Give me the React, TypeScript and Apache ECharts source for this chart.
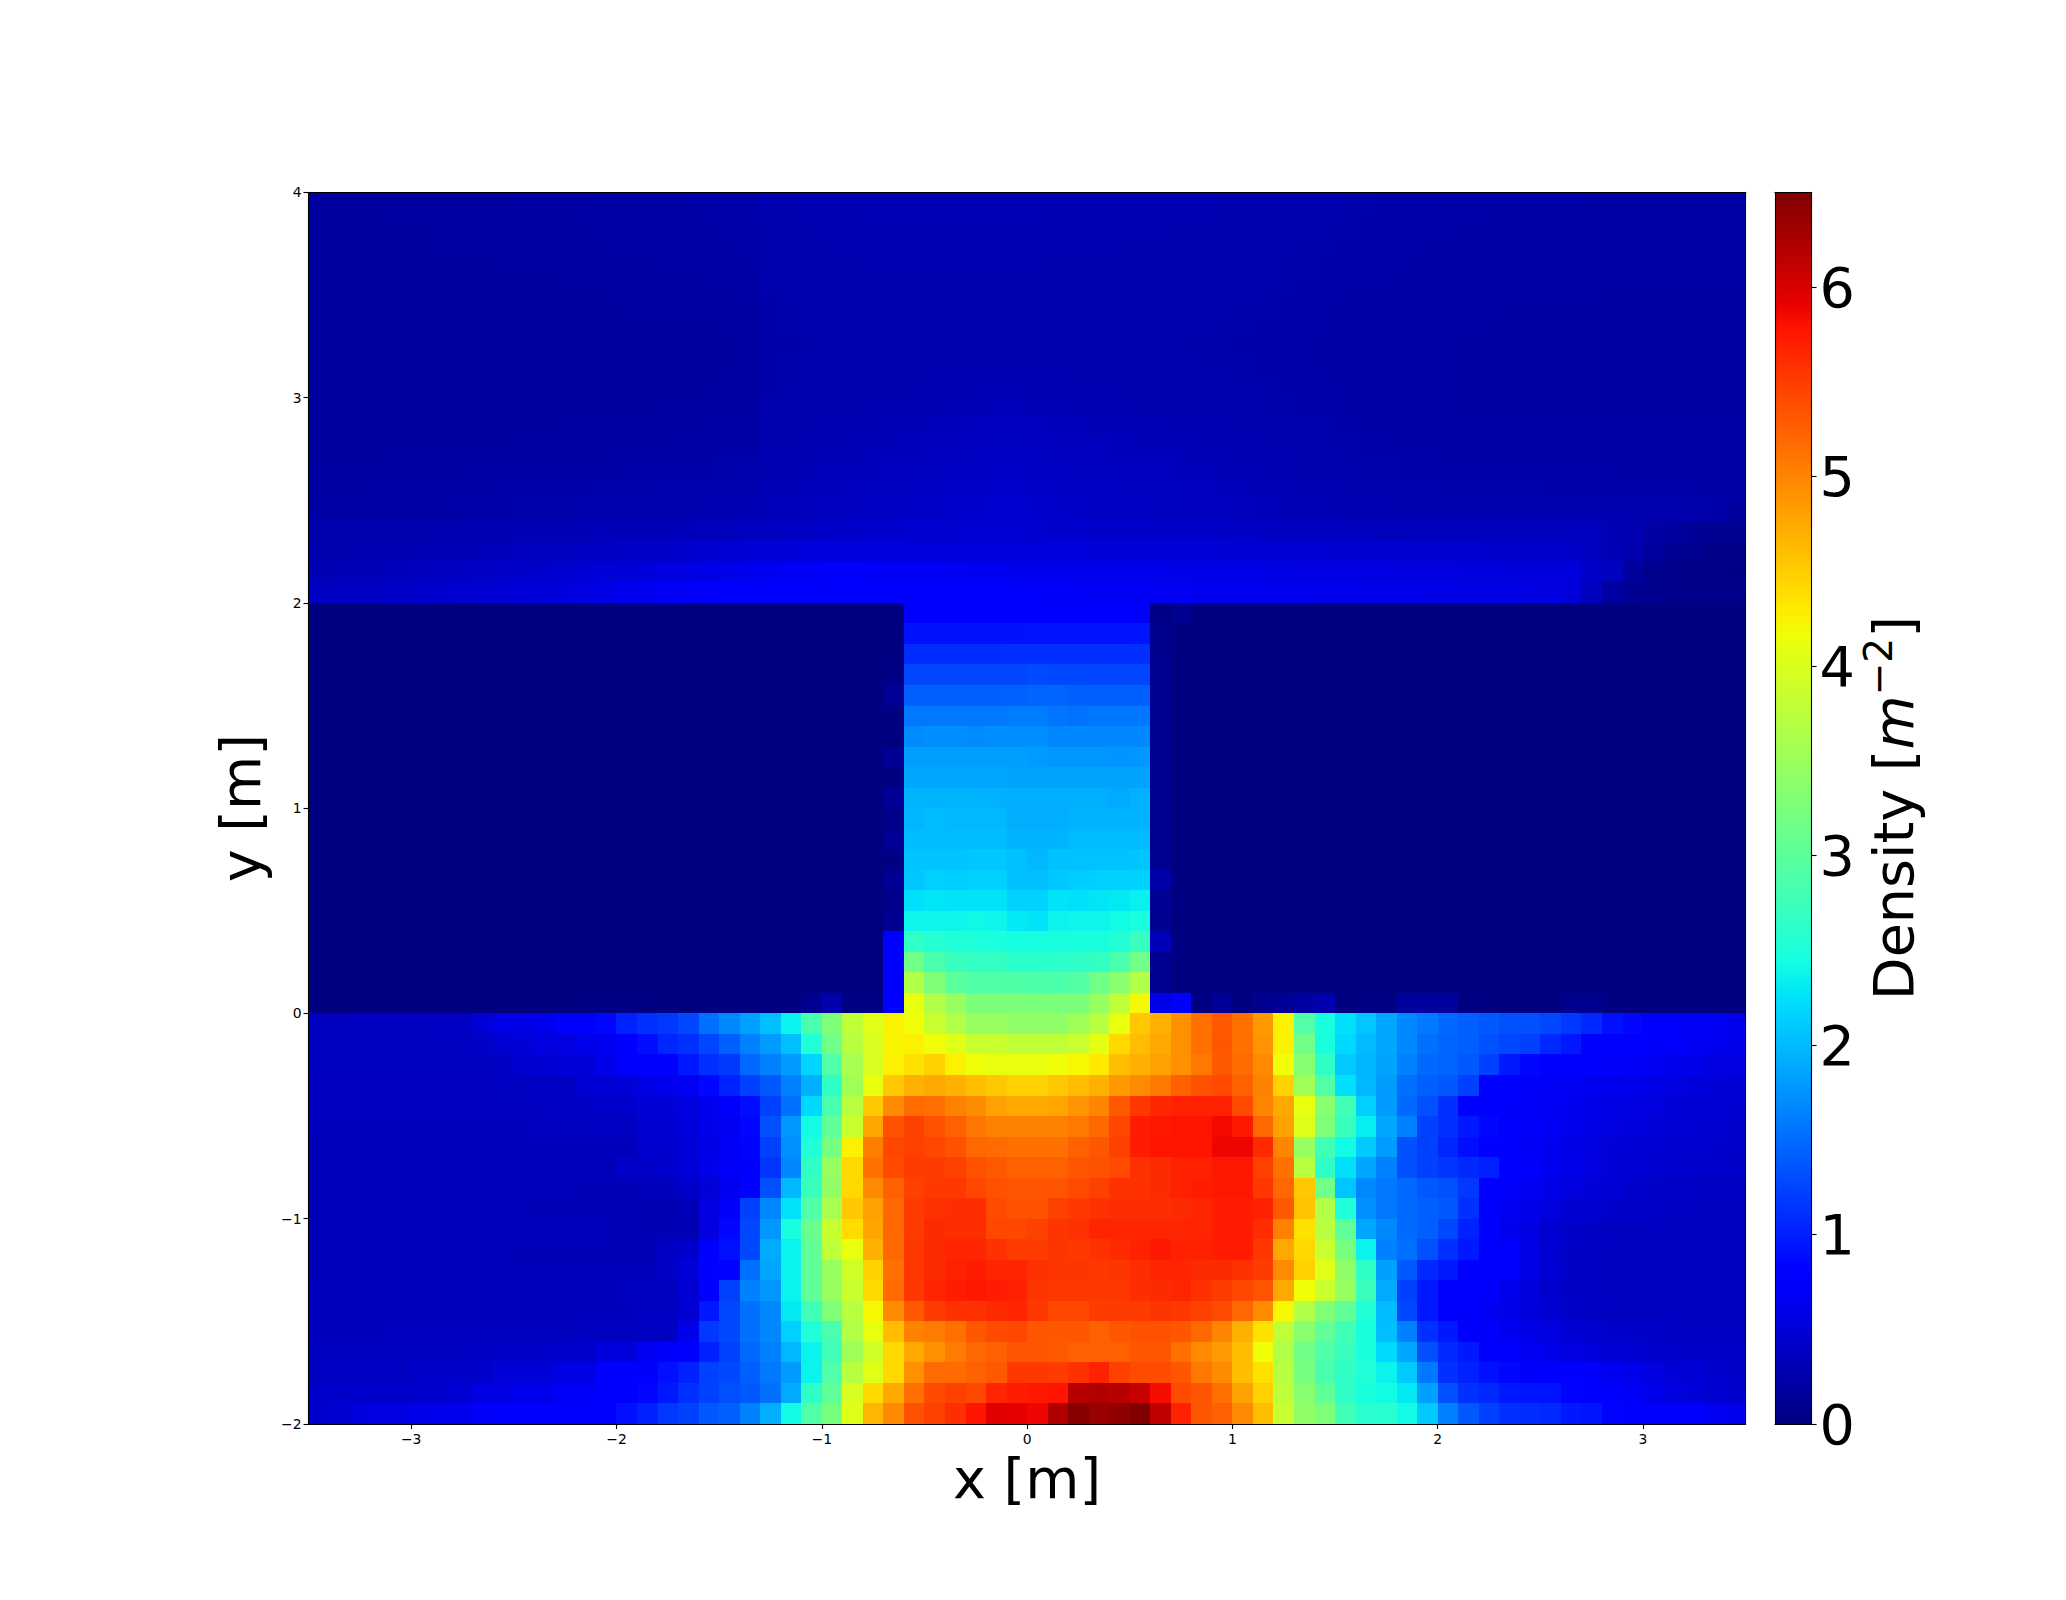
import React, { useEffect, useRef } from "react";
import * as echarts from "echarts";

const xTickLabels = [-3, -2, -1, 0, 1, 2, 3];
const yTickLabels = [-2, -1, 0, 1, 2, 3, 4];
const colorbarTicks = [0, 1, 2, 3, 4, 5, 6];
const densityMax = 6.5;

// Density per 0.1 m cell, left to right; each name is the lower edge of the band (y39 = 3.9..4.0 m).
const y39 = [.19,.19,.19,.19,.2,.2,.2,.2,.2,.2, .21,.21,.21,.21,.22,.22,.22,.22,.23,.23, .24,.24,.27,.28,.29,.3,.3,.31,.31,.31, .31,.31,.31,.31,.31,.31,.3,.3,.3,.3, .3,.29,.29,.29,.28,.28,.27,.27,.26,.26, .25,.25,.24,.24,.24,.23,.23,.23,.23,.23, .23,.23,.22,.22,.22,.22,.22,.22,.22,.22];
const y38 = [.18,.18,.18,.18,.19,.19,.19,.19,.19,.19, .2,.2,.2,.21,.21,.21,.22,.22,.22,.23, .23,.24,.26,.27,.28,.29,.29,.3,.3,.3, .3,.3,.3,.3,.3,.3,.29,.29,.29,.29, .29,.29,.28,.28,.28,.27,.27,.26,.26,.25, .25,.24,.24,.24,.23,.23,.23,.23,.22,.22, .22,.22,.22,.22,.22,.22,.22,.22,.22,.22];
const y37 = [.18,.18,.18,.18,.18,.18,.19,.19,.19,.19, .19,.2,.2,.2,.21,.21,.21,.21,.22,.22, .23,.24,.26,.27,.28,.28,.29,.29,.29,.3, .3,.3,.3,.3,.29,.29,.29,.29,.29,.28, .28,.28,.28,.27,.27,.27,.26,.26,.25,.25, .24,.24,.24,.23,.23,.23,.22,.22,.22,.22, .22,.22,.22,.22,.22,.22,.22,.22,.22,.22];
const y36 = [.17,.17,.17,.17,.18,.18,.18,.18,.18,.19, .19,.19,.19,.2,.2,.2,.2,.21,.21,.22, .22,.23,.25,.26,.27,.28,.28,.29,.29,.29, .29,.29,.29,.29,.29,.28,.28,.28,.28,.28, .28,.27,.27,.27,.27,.26,.26,.25,.25,.24, .24,.23,.23,.23,.22,.22,.22,.22,.22,.21, .21,.21,.21,.21,.21,.21,.21,.21,.21,.21];
const y35 = [.17,.17,.17,.17,.17,.17,.18,.18,.18,.18, .18,.18,.19,.19,.19,.19,.2,.2,.2,.21, .21,.22,.25,.26,.27,.27,.28,.28,.28,.28, .28,.28,.28,.28,.28,.28,.28,.27,.27,.27, .27,.27,.27,.26,.26,.26,.25,.25,.24,.24, .23,.23,.23,.22,.22,.22,.22,.21,.21,.21, .21,.21,.21,.21,.21,.21,.21,.21,.21,.21];
const y34 = [.16,.16,.16,.16,.17,.17,.17,.17,.17,.17, .17,.18,.18,.18,.18,.19,.19,.19,.19,.2, .2,.21,.24,.25,.26,.27,.27,.27,.28,.28, .28,.28,.28,.28,.28,.27,.27,.27,.27,.27, .27,.26,.26,.26,.26,.25,.25,.24,.24,.23, .23,.22,.22,.22,.22,.21,.21,.21,.21,.21, .21,.21,.21,.2,.2,.2,.2,.2,.2,.2];
const y33 = [.16,.16,.16,.16,.16,.16,.17,.17,.17,.17, .17,.17,.17,.17,.17,.18,.18,.18,.18,.18, .19,.2,.24,.25,.26,.26,.27,.27,.27,.27, .27,.27,.27,.27,.27,.27,.27,.27,.27,.26, .26,.26,.26,.26,.25,.25,.24,.24,.23,.23, .22,.22,.22,.21,.21,.21,.21,.21,.2,.2, .2,.2,.2,.2,.2,.2,.2,.2,.2,.2];
const y32 = [.16,.16,.16,.16,.16,.16,.16,.16,.16,.16, .16,.16,.16,.16,.17,.17,.17,.17,.18,.18, .18,.2,.23,.24,.25,.26,.26,.26,.27,.27, .27,.27,.27,.27,.27,.27,.26,.26,.26,.26, .26,.26,.25,.25,.25,.24,.24,.23,.23,.22, .22,.22,.21,.21,.21,.21,.2,.2,.2,.2, .2,.2,.2,.2,.2,.2,.2,.2,.2,.2];
const y31 = [.16,.16,.16,.16,.16,.16,.16,.16,.16,.16, .16,.16,.16,.16,.16,.17,.17,.17,.18,.18, .19,.2,.24,.25,.26,.26,.27,.27,.27,.27, .27,.27,.27,.27,.27,.27,.27,.26,.26,.26, .26,.26,.26,.25,.25,.25,.24,.24,.23,.23, .22,.22,.21,.21,.21,.21,.2,.2,.2,.2, .2,.2,.2,.2,.2,.2,.2,.2,.2,.2];
const y30 = [.16,.16,.16,.16,.16,.16,.17,.17,.17,.17, .17,.17,.17,.17,.17,.17,.18,.18,.18,.19, .19,.2,.24,.25,.26,.27,.27,.28,.28,.28, .29,.29,.3,.3,.3,.3,.29,.29,.28,.28, .27,.27,.27,.26,.26,.25,.25,.24,.24,.23, .23,.22,.22,.21,.21,.21,.2,.2,.2,.2, .2,.2,.2,.2,.2,.2,.2,.2,.2,.2];
const y29 = [.16,.16,.16,.17,.17,.17,.17,.17,.17,.17, .17,.17,.17,.17,.18,.18,.18,.19,.19,.2, .2,.21,.25,.26,.27,.28,.28,.29,.29,.29, .3,.31,.32,.33,.33,.32,.31,.3,.3,.29, .28,.28,.27,.27,.26,.26,.25,.25,.24,.24, .23,.22,.22,.21,.21,.21,.2,.2,.2,.2, .2,.2,.2,.2,.2,.2,.2,.2,.2,.2];
const y28 = [.17,.17,.17,.17,.17,.17,.18,.18,.18,.18, .18,.18,.19,.19,.19,.19,.2,.2,.2,.21, .21,.22,.26,.27,.28,.29,.3,.3,.31,.32, .33,.34,.35,.36,.36,.35,.34,.33,.32,.32, .31,.31,.3,.3,.29,.28,.27,.26,.26,.25, .24,.23,.23,.22,.22,.21,.21,.21,.21,.21, .21,.21,.21,.21,.21,.21,.21,.21,.21,.21];
const y27 = [.18,.18,.18,.18,.19,.19,.19,.19,.19,.19, .2,.2,.2,.2,.2,.21,.21,.21,.22,.22, .23,.24,.27,.28,.3,.31,.31,.32,.33,.34, .35,.36,.37,.38,.38,.37,.36,.35,.35,.34, .33,.33,.32,.31,.3,.29,.28,.28,.27,.26, .25,.24,.24,.23,.23,.22,.22,.22,.22,.22, .22,.22,.22,.22,.22,.22,.22,.22,.22,.22];
const y26 = [.19,.19,.19,.2,.2,.2,.2,.21,.21,.21, .21,.21,.22,.22,.22,.23,.23,.23,.24,.24, .25,.26,.29,.3,.32,.33,.33,.34,.35,.36, .37,.38,.39,.4,.4,.39,.38,.37,.36,.36, .35,.35,.34,.33,.32,.31,.3,.29,.28,.27, .26,.25,.25,.24,.24,.23,.23,.23,.23,.23, .23,.23,.23,.23,.22,.22,.22,.22,.22,.22];
const y25 = [.2,.2,.2,.21,.21,.21,.22,.22,.22,.23, .23,.23,.24,.24,.25,.25,.25,.26,.26,.27, .27,.28,.31,.32,.33,.34,.35,.36,.37,.38, .39,.4,.41,.42,.42,.41,.4,.39,.38,.38, .37,.36,.36,.35,.34,.33,.32,.31,.3,.29, .28,.27,.27,.26,.26,.25,.25,.25,.25,.25, .24,.24,.24,.24,.24,.24,.23,.23,.22,.22];
const y24 = [.22,.22,.22,.23,.23,.23,.23,.24,.24,.24, .25,.25,.25,.26,.26,.27,.27,.28,.28,.29, .3,.31,.33,.34,.36,.37,.38,.39,.4,.41, .42,.43,.44,.45,.45,.44,.42,.41,.4,.4, .39,.38,.38,.37,.36,.35,.34,.33,.32,.31, .3,.29,.29,.28,.28,.27,.27,.27,.27,.27, .27,.27,.27,.27,.27,.27,.26,.25,.24,.18];
const y23 = [.25,.25,.25,.26,.26,.26,.27,.27,.28,.29, .3,.3,.31,.31,.32,.32,.33,.33,.34,.35, .36,.37,.38,.39,.4,.42,.43,.44,.44,.45, .45,.45,.46,.46,.46,.45,.44,.44,.43,.43, .42,.42,.42,.41,.41,.4,.39,.38,.38,.37, .37,.37,.36,.36,.36,.36,.36,.36,.36,.36, .36,.36,.36,.3,.27,.2,.18,.14,.12,.1];
const y22 = [.28,.28,.29,.29,.3,.31,.31,.32,.33,.34, .36,.36,.37,.38,.39,.4,.41,.42,.44,.46, .48,.49,.5,.51,.52,.52,.52,.52,.52,.52, .52,.52,.52,.52,.52,.52,.52,.52,.51,.51, .51,.5,.5,.5,.49,.48,.48,.47,.47,.46, .46,.46,.46,.45,.45,.45,.45,.44,.44,.44, .44,.42,.36,.3,.26,.18,.12,.1,.06,.05];
const y21 = [.3,.31,.32,.33,.34,.36,.37,.38,.4,.41, .42,.43,.45,.47,.49,.5,.52,.54,.56,.58, .6,.62,.64,.66,.68,.7,.7,.68,.67,.66, .66,.65,.64,.63,.62,.62,.61,.61,.6,.6, .6,.6,.59,.59,.58,.58,.58,.57,.56,.56, .56,.55,.55,.54,.54,.54,.53,.53,.52,.52, .52,.52,.42,.36,.16,.08,.06,.05,.05,.04];
const y20 = [.38,.38,.39,.4,.42,.43,.44,.45,.46,.48, .5,.51,.53,.55,.58,.62,.64,.66,.68,.7, .72,.72,.73,.74,.74,.74,.75,.75,.74,.74, .74,.74,.72,.72,.71,.7,.69,.68,.67,.66, .66,.65,.65,.64,.64,.63,.63,.62,.62,.61, .61,.6,.6,.6,.59,.59,.58,.58,.58,.56, .54,.5,.36,.2,.1,.08,.07,.06,.06,.06];
const y19 = [0,0,0,0,0,0,0,0,0,0, 0,0,0,0,0,0,0,0,0,0, 0,0,0,0,0,0,0,0,0,.74, .74,.74,.74,.74,.74,.74,.74,.76,.76,.76, .76,.04,.1,0,0,0,0,0,0,0, 0,0,0,0,0,0,0,0,0,0, 0,0,0,0,0,0,0,0,0,0];
const y18 = [0,0,0,0,0,0,0,0,0,0, 0,0,0,0,0,0,0,0,0,0, 0,0,0,0,0,0,0,0,0,.92, .92,.92,.92,.92,.92,.93,.93,.93,.93,.93, .94,.08,.01,0,0,0,0,0,0,0, 0,0,0,0,0,0,0,0,0,0, 0,0,0,0,0,0,0,0,0,0];
const y17 = [0,0,0,0,0,0,0,0,0,0, 0,0,0,0,0,0,0,0,0,0, 0,0,0,0,0,0,0,0,0,1.1, 1.1,1.1,1.1,1.1,1.11,1.11,1.11,1.11,1.11,1.11, 1.11,.08,.01,0,0,0,0,0,0,0, 0,0,0,0,0,0,0,0,0,0, 0,0,0,0,0,0,0,0,0,0];
const y16 = [0,0,0,0,0,0,0,0,0,0, 0,0,0,0,0,0,0,0,0,0, 0,0,0,0,0,0,0,0,.04,1.26, 1.26,1.26,1.26,1.26,1.26,1.28,1.27,1.27,1.25,1.26, 1.26,.09,.01,0,0,0,0,0,0,0, 0,0,0,0,0,0,0,0,0,0, 0,0,0,0,0,0,0,0,0,0];
const y15 = [0,0,0,0,0,0,0,0,0,0, 0,0,0,0,0,0,0,0,0,0, 0,0,0,0,0,0,0,0,.14,1.42, 1.42,1.42,1.42,1.42,1.43,1.45,1.45,1.42,1.42,1.42, 1.42,.09,.01,0,0,0,0,0,0,0, 0,0,0,0,0,0,0,0,0,0, 0,0,0,0,0,0,0,0,0,0];
const y14 = [0,0,0,0,0,0,0,0,0,0, 0,0,0,0,0,0,0,0,0,0, 0,0,0,0,0,0,0,0,0,1.58, 1.58,1.58,1.58,1.58,1.6,1.6,1.56,1.54,1.57,1.57, 1.57,.09,.01,0,0,0,0,0,0,0, 0,0,0,0,0,0,0,0,0,0, 0,0,0,0,0,0,0,0,0,0];
const y13 = [0,0,0,0,0,0,0,0,0,0, 0,0,0,0,0,0,0,0,0,0, 0,0,0,0,0,0,0,0,0,1.7, 1.72,1.72,1.7,1.72,1.72,1.72,1.68,1.68,1.68,1.68, 1.68,.09,.01,0,0,0,0,0,0,0, 0,0,0,0,0,0,0,0,0,0, 0,0,0,0,0,0,0,0,0,0];
const y12 = [0,0,0,0,0,0,0,0,0,0, 0,0,0,0,0,0,0,0,0,0, 0,0,0,0,0,0,0,0,.12,1.82, 1.82,1.82,1.82,1.82,1.82,1.8,1.78,1.78,1.78,1.76, 1.78,.09,.01,0,0,0,0,0,0,0, 0,0,0,0,0,0,0,0,0,0, 0,0,0,0,0,0,0,0,0,0];
const y11 = [0,0,0,0,0,0,0,0,0,0, 0,0,0,0,0,0,0,0,0,0, 0,0,0,0,0,0,0,0,.02,1.88, 1.88,1.88,1.88,1.88,1.86,1.86,1.86,1.86,1.86,1.86, 1.86,.09,.01,0,0,0,0,0,0,0, 0,0,0,0,0,0,0,0,0,0, 0,0,0,0,0,0,0,0,0,0];
const y10 = [0,0,0,0,0,0,0,0,0,0, 0,0,0,0,0,0,0,0,0,0, 0,0,0,0,0,0,0,0,.13,1.95, 1.95,1.95,1.95,1.94,1.92,1.92,1.92,1.92,1.92,1.9, 1.94,.09,.01,0,0,0,0,0,0,0, 0,0,0,0,0,0,0,0,0,0, 0,0,0,0,0,0,0,0,0,0];
const y09 = [0,0,0,0,0,0,0,0,0,0, 0,0,0,0,0,0,0,0,0,0, 0,0,0,0,0,0,0,0,.05,1.96, 2.0,1.98,1.98,1.98,1.93,1.92,1.92,1.95,1.95,1.95, 1.95,.09,.01,0,0,0,0,0,0,0, 0,0,0,0,0,0,0,0,0,0, 0,0,0,0,0,0,0,0,0,0];
const y08 = [0,0,0,0,0,0,0,0,0,0, 0,0,0,0,0,0,0,0,0,0, 0,0,0,0,0,0,0,0,.14,2.0, 2.0,2.0,2.01,2.01,1.95,1.95,1.95,2.0,2.0,2.0, 2.0,.09,.01,0,0,0,0,0,0,0, 0,0,0,0,0,0,0,0,0,0, 0,0,0,0,0,0,0,0,0,0];
const y07 = [0,0,0,0,0,0,0,0,0,0, 0,0,0,0,0,0,0,0,0,0, 0,0,0,0,0,0,0,0,.01,2.06, 2.06,2.06,2.08,2.08,2.04,1.98,2.04,2.05,2.05,2.05, 2.07,.09,.01,0,0,0,0,0,0,0, 0,0,0,0,0,0,0,0,0,0, 0,0,0,0,0,0,0,0,0,0];
const y06 = [0,0,0,0,0,0,0,0,0,0, 0,0,0,0,0,0,0,0,0,0, 0,0,0,0,0,0,0,0,.12,2.08, 2.14,2.12,2.14,2.14,2.03,2.03,2.08,2.12,2.14,2.14, 2.15,.24,.01,0,0,0,0,0,0,0, 0,0,0,0,0,0,0,0,0,0, 0,0,0,0,0,0,0,0,0,0];
const y05 = [0,0,0,0,0,0,0,0,0,0, 0,0,0,0,0,0,0,0,0,0, 0,0,0,0,0,0,0,0,.06,2.24, 2.28,2.26,2.26,2.26,2.15,2.15,2.26,2.24,2.28,2.3, 2.34,.12,.01,0,0,0,0,0,0,0, 0,0,0,0,0,0,0,0,0,0, 0,0,0,0,0,0,0,0,0,0];
const y04 = [0,0,0,0,0,0,0,0,0,0, 0,0,0,0,0,0,0,0,0,0, 0,0,0,0,0,0,0,0,.1,2.38, 2.38,2.38,2.4,2.38,2.3,2.26,2.36,2.38,2.38,2.42, 2.46,.1,.01,0,0,0,0,0,0,0, 0,0,0,0,0,0,0,0,0,0, 0,0,0,0,0,0,0,0,0,0];
const y03 = [0,0,0,0,0,0,0,0,0,0, 0,0,0,0,0,0,0,0,0,0, 0,0,0,0,0,0,0,0,.72,2.66, 2.56,2.52,2.5,2.48,2.45,2.45,2.45,2.47,2.47,2.55, 2.72,.33,.01,0,0,0,0,0,0,0, 0,0,0,0,0,0,0,0,0,0, 0,0,0,0,0,0,0,0,0,0];
const y02 = [0,0,0,0,0,0,0,0,0,0, 0,0,0,0,0,0,0,0,0,0, 0,0,0,0,0,0,0,0,.72,3.16, 2.85,2.72,2.68,2.68,2.62,2.62,2.62,2.65,2.68,2.85, 3.16,.09,.01,0,0,0,0,0,0,0, 0,0,0,0,0,0,0,0,0,0, 0,0,0,0,0,0,0,0,0,0];
const y01 = [0,0,0,0,0,0,0,0,0,0, 0,0,0,0,0,0,0,0,0,0, 0,0,0,0,0,0,0,0,.72,3.67, 3.28,3.0,2.92,2.92,2.9,2.88,2.88,2.93,3.16,3.35, 3.67,.09,.01,0,0,0,0,0,0,0, 0,0,0,0,0,0,0,0,0,0, 0,0,0,0,0,0,0,0,0,0];
const y00 = [0,0,0,0,0,0,0,0,0,0, 0,0,0,.02,.03,.04,.02,0,0,0, 0,0,0,0,.1,.25,.02,.03,.72,4.11, 3.67,3.47,3.25,3.25,3.25,3.25,3.25,3.25,3.47,3.79, 4.2,.6,.7,.03,.14,0,.1,.12,.2,.25, 0,.03,.03,.18,.18,.18,.02,.01,0,0, 0,.1,.1,0,0,0,0,0,0,0];
const ym01 = [.36,.36,.37,.37,.38,.38,.39,.4,.5,.58, .58,.62,.72,.72,.85,1.02,1.12,1.17,1.27,1.53, 1.68,1.83,2.03,2.36,2.85,3.28,3.79,4.05,4.25,4.17, 3.85,3.67,3.47,3.47,3.41,3.41,3.41,3.54,3.73,4.11, 4.54,4.7,4.92,5.14,5.3,5.14,4.86,4.26,2.91,2.47, 2.24,2.07,1.88,1.68,1.58,1.48,1.42,1.37,1.32,1.32, 1.27,1.17,1.07,.91,.85,.76,.72,.68,.66,.62];
const ym02 = [.36,.36,.36,.37,.37,.37,.37,.38,.4,.48, .5,.54,.56,.6,.64,.72,.9,1.05,1.12,1.25, 1.42,1.63,1.8,2.03,2.53,3.16,3.73,3.98,4.24,4.26, 4.17,4.05,3.85,3.85,3.79,3.79,3.79,3.85,4.08,4.43, 4.62,4.75,4.92,5.14,5.32,5.14,4.9,4.26,3.16,2.47, 2.2,2.0,1.88,1.68,1.53,1.45,1.42,1.32,1.27,1.22, 1.07,.97,.78,.75,.74,.72,.7,.66,.64,.6];
const ym03 = [.36,.36,.36,.36,.37,.37,.37,.37,.37,.39, .45,.46,.5,.5,.6,.72,.74,.76,.97,1.12, 1.17,1.48,1.63,1.8,2.17,2.91,3.6,3.98,4.26,4.37, 4.48,4.26,4.17,4.11,4.11,4.11,4.17,4.22,4.31,4.6, 4.7,4.81,4.92,5.08,5.3,5.18,4.97,4.17,3.35,2.65, 2.09,1.97,1.86,1.63,1.48,1.45,1.37,1.22,.97,.85, .76,.74,.72,.7,.68,.66,.62,.6,.56,.54];
const ym04 = [.35,.35,.35,.35,.35,.35,.35,.35,.35,.38, .38,.38,.38,.46,.48,.5,.58,.62,.65,.85, 1.02,1.22,1.37,1.63,1.93,2.65,3.54,4.11,4.54,4.7, 4.75,4.7,4.6,4.54,4.48,4.48,4.54,4.62,4.7,4.86, 4.97,5.08,5.25,5.35,5.41,5.25,5.03,4.48,3.54,2.91, 2.24,1.98,1.8,1.53,1.42,1.37,1.22,.78,.72,.7, .68,.66,.64,.62,.6,.58,.56,.52,.5,.48];
const ym05 = [.35,.35,.35,.35,.35,.35,.35,.35,.35,.37, .37,.38,.39,.4,.43,.43,.5,.5,.54,.64, .72,.9,1.22,1.53,2.2,2.85,3.73,4.54,4.95,5.18, 5.14,5.03,4.95,4.81,4.75,4.75,4.78,4.9,5.0,5.3, 5.53,5.65,5.69,5.69,5.69,5.4,5.0,4.75,4.11,3.35, 2.78,2.14,1.8,1.48,1.32,1.12,.78,.72,.7,.68, .66,.64,.6,.58,.56,.54,.5,.48,.47,.46];
const ym06 = [.34,.34,.34,.34,.34,.34,.34,.34,.34,.34, .34,.35,.36,.37,.38,.38,.46,.46,.52,.6, .66,.85,1.32,1.78,2.42,3.03,3.85,4.78,5.35,5.47, 5.35,5.25,5.1,5.03,5.03,5.03,5.03,5.08,5.2,5.43, 5.72,5.75,5.78,5.78,5.85,5.75,5.2,4.81,4.05,3.28, 2.72,2.33,1.88,1.63,1.22,1.12,.97,.85,.74,.7, .66,.62,.58,.54,.52,.5,.48,.46,.45,.44];
const ym07 = [.33,.33,.33,.33,.33,.33,.33,.33,.33,.33, .33,.33,.33,.34,.34,.34,.44,.44,.5,.58, .68,.8,1.22,1.73,2.53,3.22,4.26,5.05,5.43,5.47, 5.43,5.35,5.2,5.18,5.14,5.14,5.14,5.25,5.32,5.47, 5.72,5.78,5.78,5.78,5.88,5.88,5.64,5.0,3.47,2.78, 2.42,2.1,1.8,1.32,1.22,1.05,.9,.75,.72,.68, .62,.58,.54,.5,.48,.47,.46,.45,.44,.42];
const ym08 = [.33,.33,.33,.33,.33,.33,.33,.33,.33,.33, .33,.33,.33,.33,.33,.41,.41,.44,.5,.6, .68,.78,1.15,1.68,2.65,3.47,4.43,5.14,5.41,5.5, 5.5,5.47,5.35,5.3,5.25,5.25,5.25,5.32,5.35,5.41, 5.58,5.62,5.69,5.69,5.75,5.75,5.47,5.14,3.73,2.65, 2.24,1.88,1.63,1.32,1.22,1.15,1.07,1.02,.74,.7, .64,.6,.55,.5,.47,.45,.44,.43,.42,.41];
const ym09 = [.33,.33,.33,.33,.33,.33,.33,.33,.33,.33, .33,.33,.33,.32,.32,.32,.34,.34,.42,.5, .64,.74,1.32,1.98,2.72,3.41,4.43,4.97,5.25,5.47, 5.53,5.53,5.43,5.35,5.33,5.33,5.33,5.4,5.47,5.58, 5.58,5.62,5.69,5.72,5.75,5.75,5.53,5.2,4.54,3.16, 2.07,1.68,1.58,1.48,1.37,1.32,1.17,.76,.7,.66, .6,.54,.5,.47,.44,.42,.41,.4,.39,.38];
const ym10 = [.33,.33,.33,.33,.33,.33,.33,.33,.33,.33, .33,.32,.32,.32,.32,.32,.3,.3,.33,.56, .7,1.22,1.68,2.26,2.91,3.6,4.54,4.81,5.2,5.5, 5.58,5.6,5.6,5.4,5.35,5.35,5.47,5.53,5.58,5.6, 5.6,5.6,5.62,5.66,5.72,5.72,5.69,5.3,4.57,3.67, 2.53,1.73,1.58,1.48,1.42,1.37,1.12,.72,.66,.6, .54,.46,.45,.42,.41,.4,.39,.38,.37,.37];
const ym11 = [.33,.33,.33,.33,.33,.33,.33,.33,.33,.33, .33,.33,.33,.33,.33,.3,.3,.3,.3,.56, .85,1.27,1.78,2.47,3.1,3.85,4.4,4.78,5.2,5.5, 5.62,5.6,5.6,5.43,5.43,5.47,5.55,5.58,5.66,5.66, 5.66,5.66,5.66,5.66,5.72,5.72,5.6,5.03,4.37,3.73, 3.03,1.88,1.68,1.48,1.42,1.27,1.02,.74,.62,.55, .46,.42,.4,.38,.37,.37,.37,.36,.36,.36];
const ym12 = [.33,.33,.33,.33,.33,.33,.33,.33,.33,.33, .32,.32,.32,.32,.32,.32,.32,.39,.44,.72, .91,1.27,1.9,2.36,3.03,3.79,4.11,4.7,5.2,5.53, 5.62,5.66,5.66,5.58,5.5,5.5,5.55,5.53,5.58,5.62, 5.69,5.75,5.69,5.69,5.72,5.72,5.53,4.75,4.43,3.85, 3.22,2.36,1.63,1.53,1.32,1.12,.97,.74,.72,.58, .46,.4,.38,.37,.36,.36,.36,.36,.36,.36];
const ym13 = [.33,.33,.33,.33,.33,.33,.33,.33,.33,.33, .33,.33,.33,.33,.33,.33,.33,.4,.5,.72, .8,1.53,1.88,2.36,3.03,3.47,3.92,4.48,5.14,5.53, 5.62,5.69,5.72,5.66,5.66,5.58,5.55,5.55,5.53,5.55, 5.6,5.66,5.66,5.62,5.62,5.58,5.5,4.97,4.48,4.05, 3.41,2.65,1.83,1.37,1.07,.97,.78,.74,.72,.58, .48,.4,.38,.37,.36,.36,.36,.36,.36,.36];
const ym14 = [.34,.34,.34,.34,.34,.34,.34,.34,.34,.34, .34,.34,.34,.34,.34,.36,.36,.37,.48,.72, 1.22,1.63,1.78,2.36,3.03,3.47,3.85,4.43,5.18,5.53, 5.66,5.72,5.75,5.72,5.69,5.55,5.53,5.53,5.53,5.53, 5.6,5.62,5.66,5.58,5.5,5.43,5.33,4.75,4.17,3.85, 3.47,2.72,1.9,1.22,.97,.78,.72,.7,.62,.52, .44,.4,.38,.37,.36,.36,.36,.36,.36,.36];
const ym15 = [.34,.34,.34,.34,.34,.34,.34,.34,.34,.34, .34,.34,.34,.34,.34,.34,.38,.38,.46,.97, 1.27,1.53,1.68,2.3,2.78,3.28,3.73,4.22,4.95,5.3, 5.5,5.58,5.58,5.62,5.66,5.53,5.43,5.43,5.5,5.5, 5.5,5.55,5.53,5.47,5.4,5.2,4.95,4.22,3.67,3.28, 3.03,2.53,2.0,1.27,.97,.74,.7,.66,.6,.52, .46,.42,.39,.38,.37,.37,.37,.36,.36,.36];
const ym16 = [.34,.34,.34,.34,.35,.35,.35,.35,.36,.36, .36,.36,.36,.37,.37,.37,.38,.38,.6,1.17, 1.27,1.53,1.68,2.14,2.53,2.85,3.67,4.11,4.62,5.03, 5.06,5.14,5.32,5.41,5.43,5.32,5.32,5.32,5.25,5.32, 5.35,5.35,5.32,5.2,5.0,4.7,4.37,3.79,3.35,3.03, 2.78,2.47,2.03,1.63,1.12,.97,.76,.7,.64,.58, .54,.48,.45,.42,.41,.4,.39,.38,.38,.38];
const ym17 = [.36,.36,.36,.36,.36,.36,.36,.38,.39,.4, .41,.42,.43,.44,.52,.52,.66,.72,.74,1.02, 1.22,1.48,1.63,1.98,2.36,2.78,3.54,3.92,4.43,4.75, 4.92,5.06,5.2,5.25,5.33,5.33,5.3,5.25,5.25,5.25, 5.32,5.32,5.14,4.97,4.85,4.6,4.17,3.67,3.16,2.91, 2.72,2.47,2.2,1.88,1.32,1.07,.97,.76,.72,.66, .6,.56,.52,.48,.46,.44,.42,.41,.4,.4];
const ym18 = [.38,.38,.38,.38,.38,.42,.42,.42,.42,.5, .5,.5,.58,.58,.72,.74,.78,.91,1.02,1.22, 1.27,1.42,1.58,1.8,2.36,2.91,3.73,4.05,4.43,4.92, 5.18,5.18,5.25,5.3,5.53,5.53,5.5,5.58,5.69,5.47, 5.4,5.4,5.32,5.08,4.95,4.6,4.37,3.73,3.22,2.85, 2.65,2.53,2.36,2.1,1.58,1.12,1.02,.91,.85,.78, .75,.72,.7,.64,.6,.54,.5,.48,.44,.42];
const ym19 = [.42,.42,.42,.42,.42,.44,.44,.48,.56,.56, .62,.62,.68,.68,.72,.76,.85,.97,1.12,1.22, 1.32,1.37,1.53,1.9,2.65,3.03,3.98,4.43,4.75,5.14, 5.41,5.47,5.43,5.66,5.72,5.75,5.78,6.18,6.23,6.18, 6.1,5.83,5.41,5.33,5.14,4.81,4.48,3.79,3.35,3.03, 2.65,2.47,2.42,2.3,1.83,1.32,1.12,1.07,.97,.95, .93,.8,.76,.74,.68,.6,.54,.5,.46,.44];
const ym20 = [.44,.45,.52,.54,.56,.6,.62,.64,.68,.72, .74,.74,.74,.74,.72,.91,1.02,1.17,1.22,1.37, 1.42,1.63,1.93,2.42,2.91,3.22,4.05,4.66,4.97,5.35, 5.47,5.6,5.78,5.96,5.92,5.88,6.23,6.45,6.36,6.41, 6.5,6.14,5.69,5.32,5.25,4.97,4.6,3.85,3.41,3.28, 2.78,2.6,2.58,2.42,2.09,1.63,1.37,1.22,1.12,1.1, 1.07,.97,.94,.8,.76,.74,.72,.72,.66,.64];

const densityRows = [y39,y38,y37,y36,y35,y34,y33,y32,y31,y30,y29,y28,y27,y26,y25,y24,y23,y22,y21,y20,
  y19,y18,y17,y16,y15,y14,y13,y12,y11,y10,y09,y08,y07,y06,y05,y04,y03,y02,y01,y00,
  ym01,ym02,ym03,ym04,ym05,ym06,ym07,ym08,ym09,ym10,ym11,ym12,ym13,ym14,ym15,ym16,ym17,ym18,ym19,ym20];

// Matplotlib's jet colormap, sampled.
const jetR: number[][] = [[0,0],[.35,0],[.66,1],[.89,1],[1,.5]];
const jetG: number[][] = [[0,0],[.125,0],[.375,1],[.64,1],[.91,0],[1,0]];
const jetB: number[][] = [[0,.5],[.11,1],[.34,1],[.65,0],[1,0]];
function seg(s: number[][], t: number) {
  for (let i = 1; i < s.length; i++) {
    if (t <= s[i][0]) return s[i-1][1] + (s[i][1]-s[i-1][1]) * (t-s[i-1][0]) / (s[i][0]-s[i-1][0]);
  }
  return s[s.length-1][1];
}
function jet(t: number) {
  const h = (v: number) => Math.round(v*255).toString(16).padStart(2, "0");
  return "#" + h(seg(jetR,t)) + h(seg(jetG,t)) + h(seg(jetB,t));
}
const jetSteps: number[] = [];
for (let i = 0; i <= 100; i++) jetSteps.push(i/100);
const jetColors = jetSteps.map(jet);

const FONT = "DejaVu Sans";
const plot = { left: 308.5, right: 1745.7, top: 192.3, bottom: 1424 };
const cbar = { left: 1775, right: 1811.6 };

export default function App() {
  const ref = useRef<HTMLDivElement>(null);
  useEffect(() => {
    const chart = echarts.init(ref.current!, undefined, { renderer: "svg" });
    // r = 0 is the band 3.9..4.0, r = 59 is the band -2.0..-1.9
    const cells: number[][] = [];
    densityRows.forEach((row, r) => row.forEach((v, c) => {
      cells.push([(c-35)/10, (39-r)/10, v]);
    }));

    const minus = (v: any) => String(v).replace("-", "\u2212");
    const line = { show: true, onZero: false, lineStyle: { color: "#000", width: 1.1 } };
    const tick = { show: true, length: 5, lineStyle: { color: "#000", width: 1.1 } };
    const off = { show: false };

    chart.setOption({
      animation: false,
      backgroundColor: "#fff",
      textStyle: { fontFamily: FONT },
      grid: [
        { left: plot.left, width: plot.right-plot.left, top: plot.top, height: plot.bottom-plot.top },
        { left: cbar.left, width: cbar.right-cbar.left, top: plot.top, height: plot.bottom-plot.top },
      ],
      xAxis: [
        { type: "value", gridIndex: 0, min: -3.5, max: 3.5, position: "bottom", z: 10, splitLine: off, axisLine: line,
          axisTick: { ...tick, customValues: xTickLabels },
          axisLabel: { customValues: xTickLabels, formatter: minus, fontSize: 13.9, color: "#000", margin: 8, fontFamily: FONT },
          name: "x [m]", nameLocation: "middle", nameGap: 25,
          nameTextStyle: { fontSize: 55.6, color: "#000", fontFamily: FONT } },
        { type: "value", gridIndex: 0, min: -3.5, max: 3.5, position: "top", z: 10, splitLine: off, axisLine: line, axisTick: off, axisLabel: off },
        { type: "value", gridIndex: 1, min: 0, max: 1, position: "bottom", z: 10, splitLine: off, axisLine: line, axisTick: off, axisLabel: off },
        { type: "value", gridIndex: 1, min: 0, max: 1, position: "top", z: 10, splitLine: off, axisLine: line, axisTick: off, axisLabel: off },
      ],
      yAxis: [
        { type: "value", gridIndex: 0, min: -2, max: 4, position: "left", z: 10, splitLine: off, axisLine: line,
          axisTick: { ...tick, customValues: yTickLabels },
          axisLabel: { customValues: yTickLabels, formatter: minus, fontSize: 13.9, color: "#000", margin: 7, fontFamily: FONT },
          name: "y [m]", nameLocation: "middle", nameGap: 40,
          nameTextStyle: { fontSize: 55.6, color: "#000", fontFamily: FONT } },
        { type: "value", gridIndex: 0, min: -2, max: 4, position: "right", z: 10, splitLine: off, axisLine: line, axisTick: off, axisLabel: off },
        { type: "value", gridIndex: 1, min: 0, max: densityMax, position: "right", z: 10, splitLine: off, axisLine: line,
          axisTick: { ...tick, customValues: colorbarTicks },
          axisLabel: { customValues: colorbarTicks, fontSize: 55.6, color: "#000", margin: 8, fontFamily: FONT },
          name: "Density [{i|m}{s|\u22122}]", nameLocation: "middle", nameGap: 45, nameRotate: 90,
          nameTextStyle: { fontSize: 55.6, color: "#000", fontFamily: FONT, rich: {
            i: { fontSize: 55.6, fontStyle: "italic", fontFamily: FONT, color: "#000" },
            s: { fontSize: 39, fontFamily: FONT, color: "#000", verticalAlign: "top", lineHeight: 70 },
          } } },
        { type: "value", gridIndex: 1, min: 0, max: densityMax, position: "left", z: 10, splitLine: off, axisLine: line, axisTick: off, axisLabel: off },
      ],
      visualMap: { show: false, seriesIndex: 0, dimension: 2, min: 0, max: densityMax, inRange: { color: jetColors } },
      series: [
        { type: "custom", xAxisIndex: 0, yAxisIndex: 0, data: cells, progressive: 0, silent: true, clip: false,
          encode: { x: 0, y: 1 },
          renderItem: (_: any, api: any) => {
            const x = api.value(0), y = api.value(1);
            const a = api.coord([x, y]);
            const b = api.coord([x + 0.1, y + 0.1]);
            const l = Math.round(a[0]), r = Math.round(b[0]), t = Math.round(b[1]), bo = Math.round(a[1]);
            return { type: "rect", shape: { x: l, y: t, width: r-l, height: bo-t }, style: { fill: api.visual("color") } };
          } },
        { type: "custom", xAxisIndex: 2, yAxisIndex: 2, data: [[0, 0, 1, densityMax]], silent: true, clip: false,
          encode: { x: [0, 2], y: [1, 3] },
          renderItem: (_: any, api: any) => {
            const a = api.coord([api.value(0), api.value(1)]);
            const b = api.coord([api.value(2), api.value(3)]);
            return { type: "rect", shape: { x: a[0], y: b[1], width: b[0]-a[0], height: a[1]-b[1] },
              style: { fill: new echarts.graphic.LinearGradient(0, 1, 0, 0,
                jetColors.map((color, i) => ({ offset: jetSteps[i], color }))) } };
          } },
      ],
    });
    return () => chart.dispose();
  }, []);
  return <div ref={ref} style={{ position: "absolute", left: 0, top: 0, width: 2066, height: 1600 }} />;
}
